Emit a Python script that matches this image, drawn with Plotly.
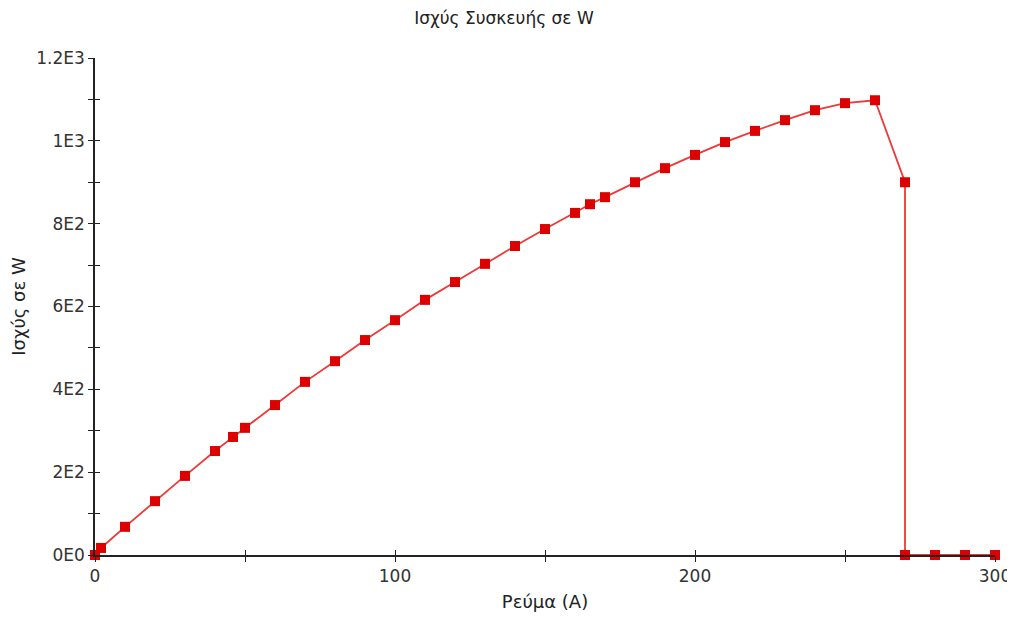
import plotly.graph_objects as go

current = [0, 2, 10, 20, 30, 40, 46, 50, 60, 70, 80, 90, 100, 110, 120, 130, 140, 150,
           160, 165, 170, 180, 190, 200, 210, 220, 230, 240, 250, 260, 270, 270, 280, 290, 300]
power = [0, 17, 68, 130, 191, 251, 285, 307, 362, 418, 468, 519, 567, 616, 659, 703, 746, 787,
         826, 847, 864, 900, 934, 966, 997, 1024, 1050, 1074, 1091, 1098, 900, 0, 0, 0, 0]

y_tickvals = [0, 200, 400, 600, 800, 1000, 1200]
y_ticktext = ["0E0", "2E2", "4E2", "6E2", "8E2", "1E3", "1.2E3"]
x_tickvals = [0, 100, 200, 300]

font_family = "DejaVu Sans, Verdana, sans-serif"

fig = go.Figure()
fig.add_trace(go.Scatter(
    x=current, y=power, mode="lines+markers",
    line=dict(color="#f03838", width=1.8),
    marker=dict(symbol="square", size=10, color="#dd0000"),
    showlegend=False, cliponaxis=False, hoverinfo="x+y",
))
# invisible trace for the overlay axes (inside ticks)
fig.add_trace(go.Scatter(x=[0], y=[0], xaxis="x2", yaxis="y2", mode="markers",
                         marker=dict(opacity=0), showlegend=False, hoverinfo="skip"))

axis_common = dict(showgrid=False, zeroline=False, showline=True, linecolor="#222",
                   linewidth=1.5, tickcolor="#222", ticklen=5, tickwidth=1)

fig.update_layout(
    width=1007, height=604,
    margin=dict(l=87, r=20, t=50, b=57, autoexpand=False),
    paper_bgcolor="white", plot_bgcolor="white",
    font=dict(family=font_family, size=17, color="#333"),
    title=dict(text="Ισχύς Συσκευής σε W", x=0.4925, xref="container", xanchor="center",
               y=1 - 10 / 604, yref="container", yanchor="middle", font=dict(size=17, color="#222")),
    xaxis=dict(range=[0, 300], tickvals=x_tickvals, ticks="outside", ticklabeloverflow="allow",
               minor=dict(dtick=50, tick0=0, ticks="outside", ticklen=5, tickcolor="#222"),
               title=dict(text="Ρεύμα (A)", standoff=11, font=dict(size=18, color="#222")),
               **axis_common),
    yaxis=dict(range=[0, 1200], tickvals=y_tickvals, ticktext=y_ticktext, ticks="outside",
               minor=dict(dtick=100, tick0=0, ticks="outside", ticklen=5, tickcolor="#222"),
               title=dict(text="Ισχύς σε W", standoff=6, font=dict(size=18, color="#222")),
               **axis_common),
    xaxis2=dict(range=[0, 300], overlaying="x", matches="x", tickvals=x_tickvals,
                ticks="inside", showticklabels=False, side="bottom", anchor="y2",
                minor=dict(dtick=50, tick0=0, ticks="inside", ticklen=5, tickcolor="#222"),
                **axis_common),
    yaxis2=dict(range=[0, 1200], overlaying="y", matches="y", tickvals=y_tickvals,
                ticks="inside", showticklabels=False, side="left", anchor="x2",
                minor=dict(dtick=100, tick0=0, ticks="inside", ticklen=5, tickcolor="#222"),
                **axis_common),
)

fig.write_html("out.html")
